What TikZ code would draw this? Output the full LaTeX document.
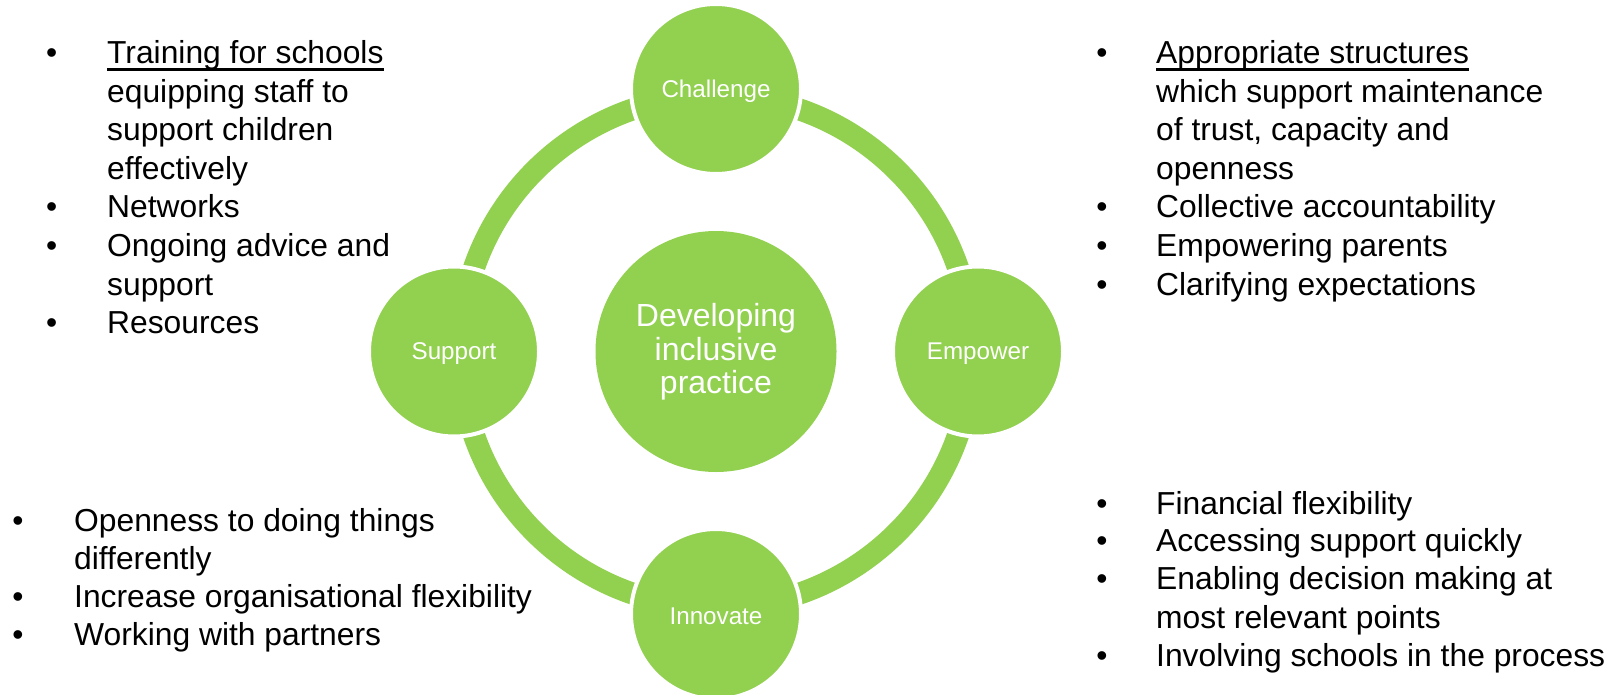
\documentclass[tikz,border=0pt]{standalone}
\usepackage{fontspec}
\setmainfont{Liberation Sans}
\definecolor{sgreen}{HTML}{92D050}
\newcommand{\lowertext}[2]{\raisebox{-#1}[\height][\depth]{#2}}
\begin{document}
\begin{tikzpicture}[x=1pt,y=-1pt,
  listtext/.style={anchor=base west,inner sep=0pt,font=\fontsize{31.8}{37}\selectfont},
  bul/.style={anchor=base,inner sep=0pt,font=\fontsize{31.8}{37}\selectfont},
  sat/.style={circle,fill=sgreen,draw=white,line width=4pt,minimum size=170pt,inner sep=0pt,text=white,font=\fontsize{24.2}{28}\selectfont},
  hub/.style={circle,fill=sgreen,minimum size=241pt,inner sep=0pt,text=white,font=\fontsize{32}{33.5}\selectfont},
  ring/.style={draw=sgreen,line width=22pt},
  uline/.style={line width=3pt}]
\useasboundingbox (0,0) rectangle (1619,695);
\coordinate (ctr) at (716,351.5);
\draw[ring] (ctr) circle[radius=256];
\node[hub] (hub) at (ctr) {\lowertext{2pt}{\begin{tabular}{@{}c@{}}Developing\\inclusive\\practice\end{tabular}}};
\node[sat] (ch) at (716,89) {\lowertext{2.5pt}{Challenge}};
\node[sat] (em) at (978,351.5) {\lowertext{2.5pt}{Empower}};
\node[sat] (in) at (716,614) {\lowertext{2.5pt}{Innovate}};
\node[sat] (su) at (454,351.5) {\lowertext{2.5pt}{Support}};
% top-left list
\node[bul] (ab1) at (51.6,64) {•};
\node[listtext] (a1) at (107,64) {Training for schools};
\node[listtext] (a2) at (107,102.5) {equipping staff to};
\node[listtext] (a3) at (107,141) {support children};
\node[listtext] (a4) at (107,179.5) {effectively};
\node[bul] (ab5) at (51.6,218) {•};
\node[listtext] (a5) at (107,218) {Networks};
\node[bul] (ab6) at (51.6,256.5) {•};
\node[listtext] (a6) at (107,256.5) {Ongoing advice and};
\node[listtext] (a7) at (107,295) {support};
\node[bul] (ab8) at (51.6,333.5) {•};
\node[listtext] (a8) at (107,333.5) {Resources};
\draw[uline] ([yshift=-5.5pt]a1.base west) -- ([yshift=-5.5pt]a1.base east);
% top-right list
\node[bul] (bb1) at (1102,64) {•};
\node[listtext] (b1) at (1156,64) {Appropriate structures};
\node[listtext] (b2) at (1156,102.5) {which support maintenance};
\node[listtext] (b3) at (1156,141) {of trust, capacity and};
\node[listtext] (b4) at (1156,179.5) {openness};
\node[bul] (bb5) at (1102,218) {•};
\node[listtext] (b5) at (1156,218) {Collective accountability};
\node[bul] (bb6) at (1102,256.5) {•};
\node[listtext] (b6) at (1156,256.5) {Empowering parents};
\node[bul] (bb7) at (1102,295) {•};
\node[listtext] (b7) at (1156,295) {Clarifying expectations};
\draw[uline] ([yshift=-5.5pt]b1.base west) -- ([yshift=-5.5pt]b1.base east);
% bottom-left list
\node[bul] (cb1) at (18,531) {•};
\node[listtext] (c1) at (74,531) {Openness to doing things};
\node[listtext] (c2) at (74,569.5) {differently};
\node[bul] (cb3) at (18,607.5) {•};
\node[listtext] (c3) at (74,607.5) {Increase organisational flexibility};
\node[bul] (cb4) at (18,645.5) {•};
\node[listtext] (c4) at (74,645.5) {Working with partners};
% bottom-right list
\node[bul] (db1) at (1102,514) {•};
\node[listtext] (d1) at (1156,514) {Financial flexibility};
\node[bul] (db2) at (1102,551.5) {•};
\node[listtext] (d2) at (1156,551.5) {Accessing support quickly};
\node[bul] (db3) at (1102,589) {•};
\node[listtext] (d3) at (1156,589) {Enabling decision making at};
\node[listtext] (d4) at (1156,628) {most relevant points};
\node[bul] (db5) at (1102,666) {•};
\node[listtext] (d5) at (1156,666) {Involving schools in the process};
\end{tikzpicture}
\end{document}
